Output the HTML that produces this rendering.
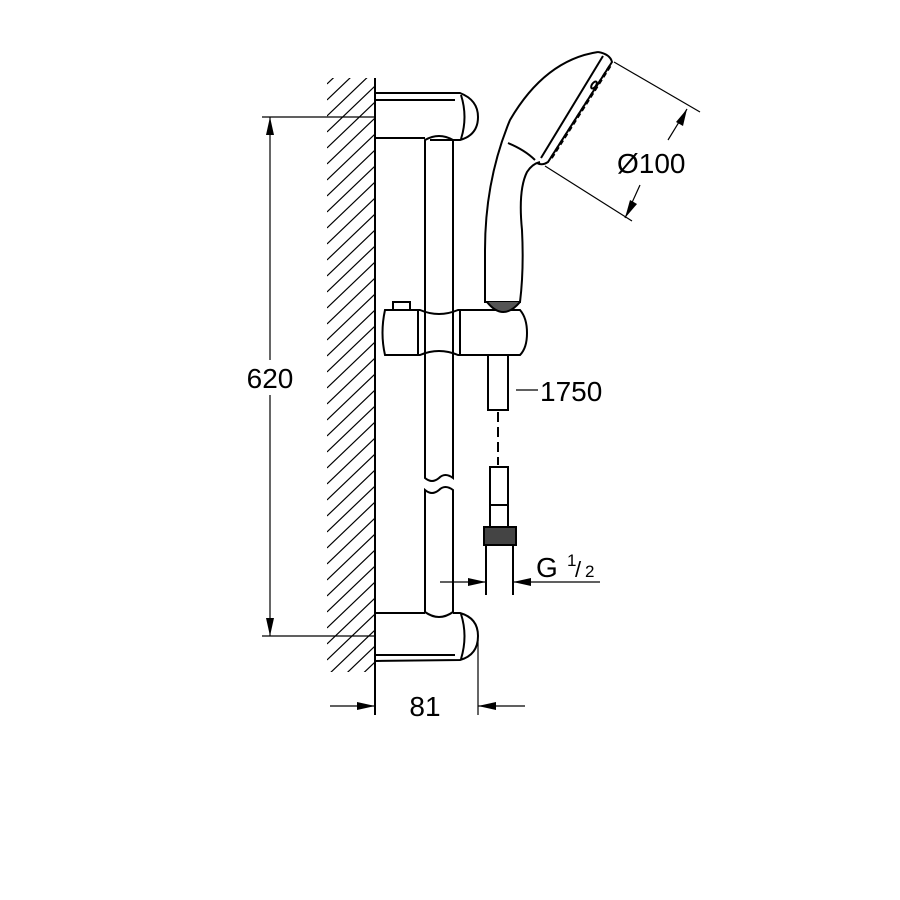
<!DOCTYPE html>
<html><head><style>html,body{margin:0;padding:0;background:#fff}svg{display:block}</style></head>
<body>
<svg width="900" height="900" viewBox="0 0 900 900" xmlns="http://www.w3.org/2000/svg" font-family="Liberation Sans, sans-serif">
<defs>
<clipPath id="hc"><rect x="327" y="78" width="48" height="594"/></clipPath>
<line id="hl" x1="327" y1="46" x2="375" y2="0" stroke="#000" stroke-width="1.2"/>
</defs>
<g clip-path="url(#hc)">
<use href="#hl" y="70"/><use href="#hl" y="86"/><use href="#hl" y="102"/><use href="#hl" y="118"/>
<use href="#hl" y="134"/><use href="#hl" y="150"/><use href="#hl" y="166"/><use href="#hl" y="182"/>
<use href="#hl" y="198"/><use href="#hl" y="214"/><use href="#hl" y="230"/><use href="#hl" y="246"/>
<use href="#hl" y="262"/><use href="#hl" y="278"/><use href="#hl" y="294"/><use href="#hl" y="310"/>
<use href="#hl" y="326"/><use href="#hl" y="342"/><use href="#hl" y="358"/><use href="#hl" y="374"/>
<use href="#hl" y="390"/><use href="#hl" y="406"/><use href="#hl" y="422"/><use href="#hl" y="438"/>
<use href="#hl" y="454"/><use href="#hl" y="470"/><use href="#hl" y="486"/><use href="#hl" y="502"/>
<use href="#hl" y="518"/><use href="#hl" y="534"/><use href="#hl" y="550"/><use href="#hl" y="566"/>
<use href="#hl" y="582"/><use href="#hl" y="598"/><use href="#hl" y="614"/><use href="#hl" y="630"/>
<use href="#hl" y="646"/><use href="#hl" y="662"/><use href="#hl" y="678"/><use href="#hl" y="54"/><use href="#hl" y="38"/>
</g>
<g fill="none" stroke="#000" stroke-width="2">
<line x1="375" y1="78" x2="375" y2="715"/>
<path d="M375 93 L460 93 Q478 100 478 117 Q478 135 460 140 L430 140"/>
<path d="M375 138 L425 138"/>
<path d="M375 100 L455 100"/>
<path d="M461 95 Q468 117 461 139"/>
<path d="M375 613 L425 613 M453 613 L460 613 Q478 618 478 636 Q478 655 460 660 L375 661"/>
<path d="M375 655 L455 655"/>
<path d="M461 614 Q468 636 461 659"/>
<path d="M425 140 Q439 132 453 140 L453 478 Q445 472 439 478 Q432 484 425 478 Z"/>
<path d="M425 490 Q432 496 439 490 Q445 484 453 490 L453 612 Q439 622 425 612 Z"/>
<path d="M385 310 L420 310 Q439 318 458 310 L520 310 Q527 318 527 333 Q527 348 520 355 L458 355 Q439 347 420 355 L385 355 Q380 333 385 310 Z"/>
<line x1="418" y1="310" x2="418" y2="355"/>
<line x1="460" y1="310" x2="460" y2="355"/>
<rect x="393" y="302" width="17" height="8"/>
<path d="M598 52 Q545 60 510 120 Q485 180 485 250 L485 302 L520 302 Q524 270 522 230 Q518 190 527 172 Q532 164 540 162"/>
<path d="M598 52 Q610 54 612 62 L548 162 Q542 166 537 163"/>
<path d="M603 56 L541 158"/>
<path d="M508 143 Q525 150 535 160"/>
<path d="M610 66 L550 160" stroke-dasharray="5 3" stroke-width="3"/>
<ellipse cx="594" cy="85" rx="2" ry="4" transform="rotate(35 594 85)"/>
<path d="M487 302 Q503 322 520 302" fill="#555"/>
<path d="M488 355 L488 410 L508 410 L508 355"/>
<line x1="498" y1="412" x2="498" y2="465" stroke-dasharray="10 5"/>
<path d="M490 505 L490 467 L508 467 L508 505"/>
<rect x="490" y="505" width="18" height="22"/>
<rect x="484" y="527" width="32" height="18" fill="#444"/>
<line x1="486" y1="545" x2="486" y2="595"/>
<line x1="513" y1="545" x2="513" y2="595"/>
</g>
<g fill="none" stroke="#000" stroke-width="1.2">
<line x1="262" y1="117" x2="375" y2="117"/>
<line x1="262" y1="636" x2="375" y2="636"/>
<line x1="270" y1="117" x2="270" y2="360"/>
<line x1="270" y1="395" x2="270" y2="636"/>
<line x1="478" y1="640" x2="478" y2="715"/>
<line x1="330" y1="706" x2="375" y2="706"/>
<line x1="478" y1="706" x2="525" y2="706"/>
<line x1="440" y1="582" x2="486" y2="582"/>
<line x1="513" y1="582" x2="600" y2="582"/>
<line x1="516" y1="390" x2="538" y2="390"/>
<line x1="614" y1="62" x2="700" y2="112"/>
<line x1="545" y1="166" x2="632" y2="221"/>
<line x1="687" y1="109" x2="668" y2="140"/>
<line x1="640" y1="185" x2="625" y2="218"/>
</g>
<g fill="#000">
<polygon points="270,117 266,135 274,135"/>
<polygon points="270,636 266,618 274,618"/>
<polygon points="375,706 357,702 357,710"/>
<polygon points="478,706 496,702 496,710"/>
<polygon points="486,582 468,578 468,586"/>
<polygon points="513,582 531,578 531,586"/>
<polygon points="687,109 676,122 683,126"/>
<polygon points="625,218 630,200 637,204"/>
</g>
<g font-size="28" fill="#000">
<text x="270" y="388" text-anchor="middle">620</text>
<text x="425" y="716" text-anchor="middle">81</text>
<text x="540" y="401">1750</text>
<text x="617" y="173">Ø100</text>
<text x="536" y="577">G</text>
<text x="567" y="566" font-size="17">1</text>
<text x="575" y="577" font-size="22">/</text>
<text x="585" y="577" font-size="17">2</text>
</g>
</svg>
</body></html>
